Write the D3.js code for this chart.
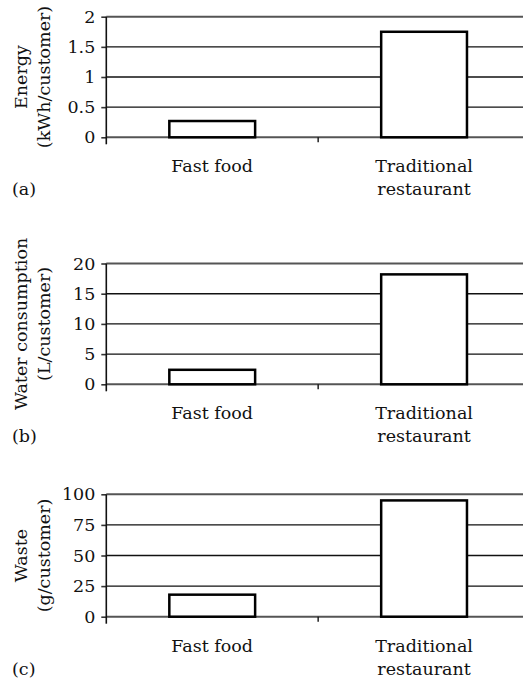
<!DOCTYPE html>
<html>
<head>
<meta charset="utf-8">
<script src="https://cdn.jsdelivr.net/npm/d3@7"></script>
<style>
  html, body { margin: 0; padding: 0; background: #fff; }
  svg { display: block; }
  text { font-family: "DejaVu Serif", "Liberation Serif", serif; fill: #111; }
</style>
</head>
<body>
<svg id="chart" width="523" height="682"></svg>
<script>
// Restaurant comparison: per-customer energy, water and waste
const categories = ["Fast food", "Traditional restaurant"];
const categoryLines = [["Fast food"], ["Traditional", "restaurant"]];

const energyValues = [0.27, 1.75];
const waterValues = [2.4, 18.2];
const wasteValues = [18, 95];

const energyTicks = [0, 0.5, 1, 1.5, 2];
const waterTicks = [0, 5, 10, 15, 20];
const wasteTicks = [0, 25, 50, 75, 100];

const energyTitle = ["Energy", "(kWh/customer)"];
const waterTitle = ["Water consumption", "(L/customer)"];
const wasteTitle = ["Waste", "(g/customer)"];

const panelLetters = ["(a)", "(b)", "(c)"];

const panels = [
  { values: energyValues, ticks: energyTicks, title: energyTitle, letter: panelLetters[0], top: 16.7, bottom: 137.3 },
  { values: waterValues, ticks: waterTicks, title: waterTitle, letter: panelLetters[1], top: 263.5, bottom: 384.3 },
  { values: wasteValues, ticks: wasteTicks, title: wasteTitle, letter: panelLetters[2], top: 494.3, bottom: 616.7 }
];

const svg = d3.select("#chart");
const left = 106.3, right = 530;
const fontSize = 17.5;

const x = d3.scaleBand().domain(categories).range([left, right]).padding(0);
const barFrac = 0.405;

panels.forEach(p => {
  const g = svg.append("g");
  const y = d3.scaleLinear()
    .domain([0, d3.max(p.ticks)])
    .range([p.bottom, p.top]);

  // horizontal gridlines (top and zero lines are the grey frame lines)
  g.append("g")
    .selectAll("line")
    .data(p.ticks)
    .join("line")
    .attr("x1", left)
    .attr("x2", right)
    .attr("y1", d => y(d))
    .attr("y2", d => y(d))
    .attr("stroke", (d, i) => (i === 0 || i === p.ticks.length - 1) ? "#555" : "#111")
    .attr("stroke-width", (d, i) => (i === 0 || i === p.ticks.length - 1) ? 2 : 1.4);

  // y axis with tick labels
  const yAxis = d3.axisLeft(y)
    .tickValues(p.ticks)
    .tickSize(5)
    .tickPadding(6)
    .tickFormat(d3.format("~g"));
  const ya = g.append("g")
    .attr("transform", `translate(${left},0)`)
    .call(yAxis);
  ya.select(".domain").remove();
  ya.selectAll(".tick line").attr("stroke", "#333").attr("stroke-width", 1.6);
  ya.selectAll(".tick text")
    .style("font-family", "'DejaVu Serif', serif")
    .style("font-size", fontSize + "px")
    .attr("fill", "#111");

  // vertical axis line, running a little below zero
  g.append("line")
    .attr("x1", left).attr("x2", left)
    .attr("y1", p.top).attr("y2", p.bottom + 7)
    .attr("stroke", "#111").attr("stroke-width", 1.6);

  // category divider tick
  g.append("line")
    .attr("x1", left + x.step()).attr("x2", left + x.step())
    .attr("y1", p.bottom).attr("y2", p.bottom + 5)
    .attr("stroke", "#111").attr("stroke-width", 1.4);

  // bars
  g.append("g")
    .selectAll("rect")
    .data(p.values)
    .join("rect")
    .attr("x", (d, i) => x(categories[i]) + x.bandwidth() * (1 - barFrac) / 2)
    .attr("width", x.bandwidth() * barFrac)
    .attr("y", d => y(d))
    .attr("height", d => y(0) - y(d))
    .attr("fill", "#fff")
    .attr("stroke", "#000")
    .attr("stroke-width", 2.5);

  // category labels
  categoryLines.forEach((lines, i) => {
    const t = g.append("text")
      .attr("text-anchor", "middle")
      .style("font-size", fontSize + "px");
    lines.forEach((ln, j) => {
      t.append("tspan")
        .attr("x", x(categories[i]) + x.bandwidth() / 2)
        .attr("y", p.bottom + 35 + j * 23)
        .text(ln);
    });
  });

  // rotated y-axis title, two lines
  const cy = (p.top + p.bottom) / 2;
  p.title.forEach((ln, j) => {
    g.append("text")
      .attr("transform", `translate(${27 + j * 23},${cy}) rotate(-90)`)
      .attr("text-anchor", "middle")
      .style("font-size", fontSize + "px")
      .text(ln);
  });

  // panel letter
  g.append("text")
    .attr("x", 12)
    .attr("y", p.bottom + 58)
    .style("font-size", fontSize + "px")
    .text(p.letter);
});
</script>
</body>
</html>
